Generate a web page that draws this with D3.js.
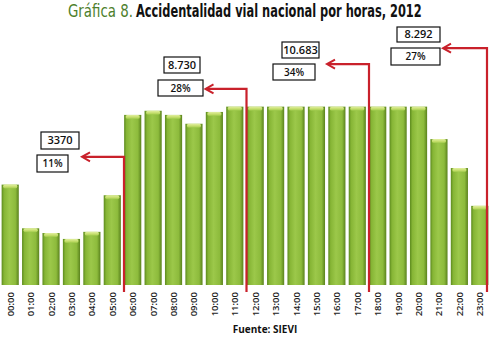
<!DOCTYPE html>
<html>
<head>
<meta charset="utf-8">
<script src="https://cdn.jsdelivr.net/npm/d3@7"></script>
<style>
  body { margin: 0; background: #fff; }
  svg { display: block; }
</style>
</head>
<body>
<svg id="chart" width="491" height="337"></svg>
<script>
// horas del día
const HOURS = ["00:00","01:00","02:00","03:00","04:00","05:00","06:00","07:00","08:00","09:00","10:00","11:00",
               "12:00","13:00","14:00","15:00","16:00","17:00","18:00","19:00","20:00","21:00","22:00","23:00"];
const ACCIDENTS = [850, 480, 440, 390, 450, 760, 1440, 1475, 1440, 1365, 1465, 1510,
                   1510, 1510, 1510, 1510, 1510, 1510, 1510, 1510, 1510, 1235, 990, 670];
// franjas de 6 horas: hora de corte, total y porcentaje
const PERIOD_END   = [6, 12, 18, 24];
const PERIOD_TOTAL = ["3370", "8.730", "10.683", "8.292"];
const PERIOD_PCT   = ["11%", "28%", "34%", "27%"];
const ARROW_Y      = [1085, 1660, 1870, 2005];  // altura de la flecha en unidades del eje
const ARROW_LEN    = [42, 41, 42, 44];

const W = 491, H = 337;
const svg = d3.select("#chart");
const RED = "#c9212b";

const x = d3.scaleBand().domain(HOURS).range([0, 490]).paddingInner(0.16).paddingOuter(0.08);
const y = d3.scaleLinear().domain([0, 1600]).range([285, 96]);

// ── gradientes ─────────────────────────────────────────────
const defs = svg.append("defs");
const g1 = defs.append("linearGradient").attr("id", "barGrad").attr("x1", 0).attr("x2", 1).attr("y1", 0).attr("y2", 0);
[["0%", "#5c8a1e"], ["14%", "#86b535"], ["45%", "#9cc84a"], ["80%", "#8dbb3c"], ["100%", "#5a821d"]]
  .forEach(([o, c]) => g1.append("stop").attr("offset", o).attr("stop-color", c));
const g2 = defs.append("linearGradient").attr("id", "capGrad").attr("x1", 0).attr("x2", 0).attr("y1", 0).attr("y2", 1);
[["0%", "#e2efa0"], ["60%", "#c3dd6a"], ["100%", "#9cc84a"]]
  .forEach(([o, c]) => g2.append("stop").attr("offset", o).attr("stop-color", c));

// ── título (estrechado horizontalmente para imitar la fuente condensada) ──
const titleFont = "'DejaVu Sans Condensed', 'Liberation Sans Narrow', 'DejaVu Sans', sans-serif";
function squeeze(sel, x0, target) {
  const w = sel.node().getComputedTextLength();
  sel.attr("transform", `translate(${x0},17) scale(${(target / w).toFixed(3)},1)`);
}
const t1 = svg.append("text")
  .style("font-family", titleFont).style("font-size", "17px")
  .attr("fill", "#4e7f2c")
  .text("Gráfica 8.");
squeeze(t1, 68, 65);
const t2 = svg.append("text")
  .style("font-family", titleFont).style("font-size", "17px")
  .style("font-weight", "bold")
  .attr("fill", "#111")
  .text("Accidentalidad vial nacional por horas, 2012");
squeeze(t2, 136, 286);

// ── barras ─────────────────────────────────────────────────
const bars = svg.append("g");
bars.selectAll("rect.bar")
  .data(ACCIDENTS).join("rect")
  .attr("class", "bar")
  .attr("x", (d, i) => x(HOURS[i]))
  .attr("y", d => y(d))
  .attr("width", x.bandwidth())
  .attr("height", d => y(0) - y(d))
  .attr("fill", "url(#barGrad)");
bars.selectAll("rect.cap")
  .data(ACCIDENTS).join("rect")
  .attr("class", "cap")
  .attr("x", (d, i) => x(HOURS[i]) + 1.5)
  .attr("y", d => y(d))
  .attr("width", x.bandwidth() - 3)
  .attr("height", 4)
  .attr("rx", 2)
  .attr("fill", "url(#capGrad)");

// ── eje x ──────────────────────────────────────────────────
svg.append("g")
  .selectAll("text")
  .data(HOURS).join("text")
  .attr("transform", d => `translate(${x(d) + x.bandwidth() / 2 + 3.5},292) rotate(-90)`)
  .attr("text-anchor", "end")
  .style("font-family", "'Open Sans', sans-serif")
  .style("font-size", "9.5px")
  .style("font-weight", "600")
  .attr("fill", "#222")
  .text(d => d);

// ── flechas de franja ──────────────────────────────────────
const lineX = i => Math.min(x.step() * PERIOD_END[i] + 1.5, W - 4);
const arrows = svg.append("g").attr("fill", "none").attr("stroke", RED).attr("stroke-width", 2.2);
PERIOD_END.forEach((p, i) => {
  const lx = lineX(i), ly = y(ARROW_Y[i]), tip = lx - ARROW_LEN[i];
  arrows.append("path").attr("d", `M${lx},292 V${ly} H${tip + 1}`);
  arrows.append("path")
    .attr("stroke-width", 2)
    .attr("d", `M${tip + 8},${ly - 4.5} L${tip},${ly} L${tip + 8},${ly + 4.5}`);
});

// ── cajas de totales ───────────────────────────────────────
const BOX_TOTAL = [[41, 132, 38, 17], [164, 57, 36, 16], [282, 42, 37, 16], [397, 27, 43, 15]];
const BOX_PCT   = [[37, 155, 31, 17], [158, 80, 45, 16], [273, 64, 42, 16], [391, 48, 49, 17]];
const boxes = svg.append("g")
  .style("font-family", "'Open Sans', sans-serif")
  .style("font-weight", "600");
function drawBox([bx, by, bw, bh], label, size) {
  boxes.append("rect").attr("x", bx).attr("y", by).attr("width", bw).attr("height", bh)
    .attr("fill", "#fff").attr("stroke", "#111").attr("stroke-width", 1.2);
  boxes.append("text").attr("x", bx + bw / 2).attr("y", by + bh / 2 + 3.8)
    .attr("text-anchor", "middle").style("font-size", size).attr("fill", "#111").text(label);
}
PERIOD_TOTAL.forEach((t, i) => drawBox(BOX_TOTAL[i], t, "11px"));
PERIOD_PCT.forEach((t, i) => drawBox(BOX_PCT[i], t, "10px"));

// ── fuente ─────────────────────────────────────────────────
svg.append("text")
  .attr("x", 265).attr("y", 333)
  .attr("text-anchor", "middle")
  .style("font-family", "'Open Sans', sans-serif")
  .style("font-size", "10px")
  .style("font-weight", "bold")
  .attr("fill", "#111")
  .text("Fuente: SIEVI");
</script>
</body>
</html>
